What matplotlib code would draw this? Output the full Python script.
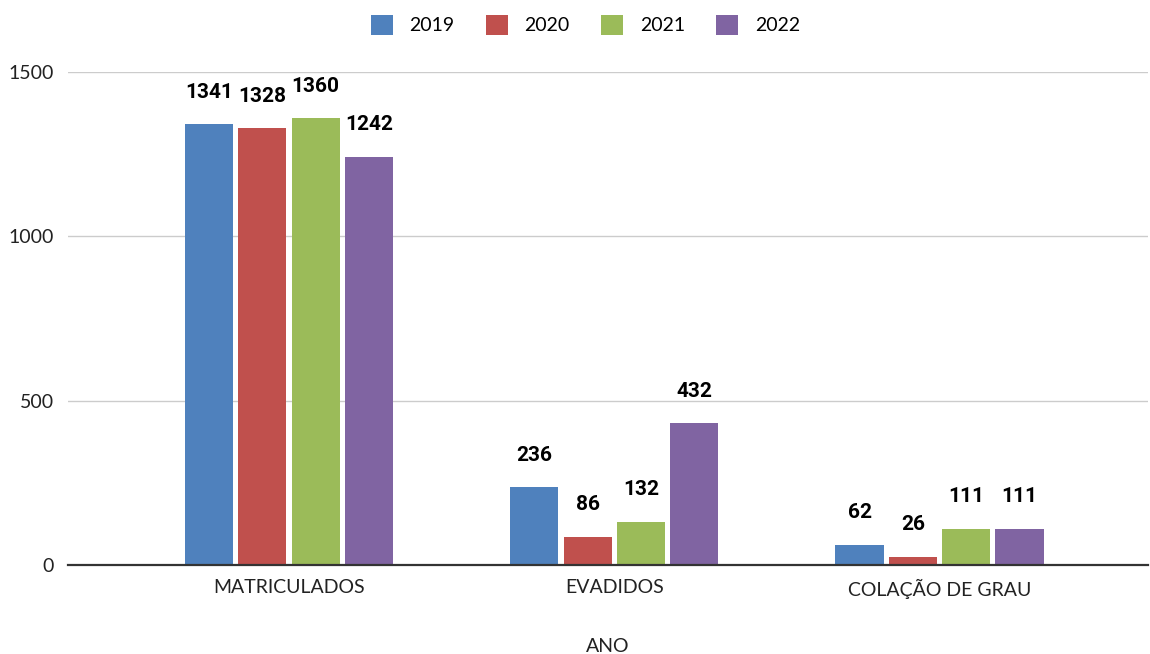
import numpy as np
import matplotlib.pyplot as plt
from matplotlib.patches import Patch

categories = ["MATRICULADOS", "EVADIDOS", "COLAÇÃO DE GRAU"]
years = ["2019", "2020", "2021", "2022"]
values = {
    "2019": [1341, 236, 62],
    "2020": [1328, 86, 26],
    "2021": [1360, 132, 111],
    "2022": [1242, 432, 111],
}
colors = ["#4F81BD", "#C0504D", "#9BBB59", "#8064A2"]
yticks = [0, 500, 1000, 1500]

plt.rcParams['font.family'] = ['Lato', 'DejaVu Sans']

fig = plt.figure(figsize=(11.5, 6.54), dpi=100)
ax = fig.add_axes([0.059, 0.136, 0.939, 0.754])

x = np.arange(len(categories))
pitch = 0.164
width = 0.148
for i, (yr, col) in enumerate(zip(years, colors)):
    pos = x + (i - 1.5) * pitch
    bars = ax.bar(pos, values[yr], width, color=col, label=yr, zorder=3)
    for b, v in zip(bars, values[yr]):
        ax.annotate(str(v), (b.get_x() + b.get_width() / 2, v),
                    xytext=(0, 23), textcoords='offset points',
                    ha='center', va='center', fontsize=15,
                    fontweight='bold', family=['Roboto', 'DejaVu Sans'])

ax.set_xlim(-0.68, 2.64)
ax.set_ylim(0, 1500)
ax.set_yticks(yticks)
ax.set_xticks(x)
ax.set_xticklabels(categories)
ax.tick_params(axis='both', length=0, labelsize=14, colors='#222222')
ax.tick_params(axis='x', pad=10)
ax.tick_params(axis='y', pad=10)
ax.grid(axis='y', color='#cccccc', linewidth=1, zorder=0)
for s in ['top', 'right', 'left']:
    ax.spines[s].set_visible(False)
ax.spines['bottom'].set_color('#333333')
ax.spines['bottom'].set_linewidth(1.6)
ax.spines['bottom'].set_zorder(4)
ax.set_xlabel("ANO", fontsize=14, color='#222222', labelpad=28)

handles = [Patch(facecolor=c, edgecolor='none', label=y) for y, c in zip(years, colors)]
fig.legend(handles=handles, loc='center', bbox_to_anchor=(0.509, 0.962), ncol=4,
           frameon=False, fontsize=14, handlelength=1.15, handleheight=1.15,
           handletextpad=0.85, columnspacing=1.6)

fig.savefig("out.png", dpi=100)
